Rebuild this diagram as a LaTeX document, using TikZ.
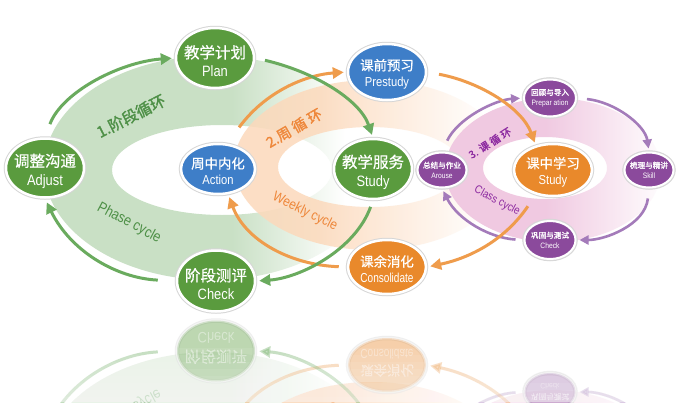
\documentclass[tikz,border=0pt]{standalone}
\usepackage{fontspec}
\newfontfamily\cjk{Noto Sans CJK SC}[FakeBold=0.7]
\newfontfamily\cjkb{Noto Sans CJK SC}[FakeBold=1.6]
\newfontfamily\enf{Liberation Sans}[FakeStretch=0.86]
\usetikzlibrary{shapes.geometric,arrows.meta}
\definecolor{ngreen}{HTML}{5A9B3E}
\definecolor{nblue}{HTML}{3E7EC8}
\definecolor{norange}{HTML}{E9892B}
\definecolor{npurple}{HTML}{8B4A9C}
\definecolor{agreen}{HTML}{6AAB5E}
\definecolor{aorange}{HTML}{EF9C4C}
\definecolor{apurple}{HTML}{A47BBA}
\definecolor{rgreen}{HTML}{C9E0C5}
\definecolor{rorange}{HTML}{FCD9BB}
\definecolor{rpurple}{HTML}{F0C9E1}
\definecolor{tgreen}{HTML}{4E9047}
\definecolor{torange}{HTML}{EE873A}
\definecolor{tpurple}{HTML}{8C2AA0}
\newcommand{\gtxt}[2]{{\cjk\fontsize{15.5}{15.5}\selectfont #1}\\{\enf\fontsize{15}{15}\selectfont #2}}
\newcommand{\mtxt}[2]{{\cjk\fontsize{13.4}{13.4}\selectfont #1}\\{\enf\fontsize{13}{13}\selectfont #2}}
\newcommand{\smalltxt}[2]{{\cjkb\fontsize{7.6}{7.6}\selectfont #1}\\{\enf\fontsize{7.8}{7.8}\selectfont #2}}
\newcommand{\upl}[1]{#1}
\tikzset{
  bignode/.style={ellipse, inner sep=0pt, draw=white, line width=2.5pt,
    preaction={draw=black!16, line width=4.5pt}},
  gnode/.style={bignode, fill=ngreen},
  bnode/.style={bignode, fill=nblue},
  onode/.style={bignode, fill=norange},
  pnode/.style={bignode, fill=npurple, line width=2pt, preaction={draw=black!14, line width=3.5pt}},
  glbl/.style={text=white, align=center, inner sep=0pt, yshift=-3pt, font=\fontsize{12}{18.5}\selectfont},
  mlbl/.style={text=white, align=center, inner sep=0pt, yshift=-2pt, font=\fontsize{12}{16}\selectfont},
  slbl/.style={text=white, align=center, inner sep=0pt, font=\fontsize{7}{10}\selectfont},
  garrow/.style={draw=agreen, line width=3pt, -{Triangle[length=11pt,width=11pt]}},
  oarrow/.style={draw=aorange, line width=3pt, -{Triangle[length=11pt,width=11pt]}},
  parrow/.style={draw=apurple, line width=2.6pt, -{Triangle[length=9pt,width=9pt]}},
  cyclabel/.style={inner sep=0pt}
}
\newcommand{\ringsdraw}{%
  \begin{scope}[even odd rule]
    \clip (212,168) ellipse [x radius=168, y radius=112] (222,170) ellipse [x radius=110, y radius=45];
    \fill[rgreen] (0,0) rectangle (232,402);
    \shade[left color=rgreen, right color=white] (232,0) rectangle (345,402);
  \end{scope}
  \begin{scope}[even odd rule]
    \clip (372,165) ellipse [x radius=138, y radius=85] (370,167) ellipse [x radius=92, y radius=40];
    \fill[rorange, opacity=0.85] (0,0) rectangle (320,402);
    \shade[left color=rorange, right color=white, opacity=0.85] (320,0) rectangle (490,402);
  \end{scope}
  \begin{scope}[even odd rule]
    \clip (553,170) ellipse [x radius=108, y radius=72] (545,168) ellipse [x radius=62, y radius=31];
    \fill[rpurple] (0,0) rectangle (545,402);
    \shade[left color=rpurple, right color=white] (545,0) rectangle (668,402);
  \end{scope}
}
\newcommand{\labelsdraw}[1]{%
  \node[cyclabel, text=tgreen, rotate=27, font=\cjkb\fontsize{15.5}{15.5}\selectfont] (#1lab1) at (131,116) {\upl{1.阶段循环}};
  \node[cyclabel, text=tgreen, rotate=-28, font=\enf\fontsize{15}{15}\selectfont] (#1lab2) at (129,223) {Phase cycle};
  \node[cyclabel, text=torange, rotate=30, font=\cjkb\fontsize{14.5}{14.5}\selectfont] (#1lab3) at (294,128) {\upl{2.周 循 环}};
  \node[cyclabel, text=torange, rotate=-26, font=\enf\fontsize{14}{14}\selectfont] (#1lab4) at (305,212) {Weekly cycle};
  \node[cyclabel, text=tpurple, rotate=32, font=\cjkb\fontsize{10.5}{10.5}\selectfont] (#1lab5) at (490,143) {\upl{3. 课 循 环}};
  \node[cyclabel, text=tpurple, rotate=-28, font=\enf\fontsize{11.5}{11.5}\selectfont] (#1lab6) at (497,201) {\upl{Class cycle}};
}
\newcommand{\nodesarrows}[1]{%
  \node[gnode, minimum width=78pt, minimum height=60pt, label={[glbl]center:\upl{\gtxt{教学计划}{Plan}}}] (#1plan) at (215,58) {};
  \node[gnode, minimum width=78pt, minimum height=59pt, label={[glbl]center:\upl{\gtxt{调整沟通}{Adjust}}}] (#1adjust) at (45,168) {};
  \node[bnode, minimum width=74pt, minimum height=50pt, label={[mlbl]center:\upl{\mtxt{周中内化}{Action}}}] (#1action) at (218,169) {};
  \node[gnode, minimum width=78pt, minimum height=61pt, label={[glbl]center:\gtxt{阶段测评}{Check}}] (#1check) at (216,281) {};
  \node[gnode, minimum width=78pt, minimum height=60pt, label={[glbl]center:\upl{\gtxt{教学服务}{Study}}}] (#1study) at (373,169) {};
  \node[bnode, minimum width=78pt, minimum height=56pt, label={[mlbl]center:\upl{\mtxt{课前预习}{Prestudy}}}] (#1prestudy) at (387,72) {};
  \node[onode, minimum width=78pt, minimum height=54pt, label={[mlbl]center:\mtxt{课余消化}{\scalebox{0.9}[1]{Consolidate}}}] (#1consol) at (387,267) {};
  \node[onode, minimum width=78pt, minimum height=52pt, label={[mlbl]center:\upl{\mtxt{课中学习}{Study}}}] (#1kzxx) at (553,170) {};
  \node[pnode, minimum width=52pt, minimum height=37pt, label={[slbl]center:\upl{\smalltxt{回顾与导入}{Prepar ation}}}] (#1prep) at (550,98) {};
  \node[pnode, minimum width=49pt, minimum height=35pt, label={[slbl]center:\upl{\smalltxt{总结与作业}{Arouse}}}] (#1arouse) at (442,170) {};
  \node[pnode, minimum width=49pt, minimum height=35pt, label={[slbl]center:\upl{\smalltxt{梳理与精讲}{Skill}}}] (#1skill) at (649,170) {};
  \node[pnode, minimum width=51pt, minimum height=38pt, label={[slbl]center:\smalltxt{巩固与测试}{Check}}] (#1pcheck) at (550,240) {};
  % purple arrows
  \draw[parrow, shorten <=12pt, shorten >=3pt] (#1arouse.north) .. controls (458,118) and (495,100) .. (#1prep.west);
  \draw[parrow, shorten <=10pt, shorten >=3pt] (#1prep.east) .. controls (615,102) and (645,125) .. (#1skill.north);
  \draw[parrow, shorten <=10pt, shorten >=3pt] (#1skill.south) .. controls (645,225) and (605,240) .. (#1pcheck.east);
  \draw[parrow, shorten <=8pt, shorten >=3pt] (#1pcheck.west) .. controls (490,238) and (458,220) .. (#1arouse.south);
  % orange arrows
  \draw[oarrow, shorten <=20pt, shorten >=3pt] (#1action.70) .. controls (265,92) and (305,75) .. (#1prestudy.west);
  \draw[oarrow, shorten <=12pt, shorten >=3pt] (#1prestudy.east) .. controls (480,82) and (522,108) .. (#1kzxx.125);
  \draw[oarrow, shorten <=14pt, shorten >=3pt] (#1kzxx.235) .. controls (505,240) and (470,258) .. (#1consol.east);
  \draw[oarrow, shorten <=8pt, shorten >=3pt] (#1consol.west) .. controls (290,265) and (245,240) .. (#1action.292);
  % green arrows
  \draw[garrow, shorten <=14pt, shorten >=3pt] (#1adjust.north) .. controls (62,92) and (120,62) .. (#1plan.west);
  \draw[garrow, shorten <=10pt, shorten >=3pt] (#1plan.east) .. controls (315,72) and (360,100) .. (#1study.north);
  \draw[garrow, shorten <=7pt, shorten >=3pt] (#1study.south) .. controls (355,250) and (300,278) .. (#1check.east);
  \draw[garrow, shorten <=18pt, shorten >=4pt] (#1check.west) .. controls (115,278) and (70,250) .. (#1adjust.south);
}
\begin{document}
\begin{tikzpicture}[x=1pt,y=-1pt]
  \useasboundingbox (0,0) rectangle (678,402);
  \fill[white] (0,0) rectangle (678,402);
  \ringsdraw
  \labelsdraw{}
  \nodesarrows{}
  % mirrored reflection below the diagram
  \begin{scope}[cm={1,0,0,-1,(0pt,-632pt)}, transform shape, opacity=0.4]
    \renewcommand{\upl}[1]{}
    \ringsdraw
    \labelsdraw{r}
    \nodesarrows{r}
  \end{scope}
  \foreach \i in {0,...,7} {\fill[white, opacity=0.08] (0,348+\i*7) rectangle (678,402);}
\end{tikzpicture}
\end{document}
